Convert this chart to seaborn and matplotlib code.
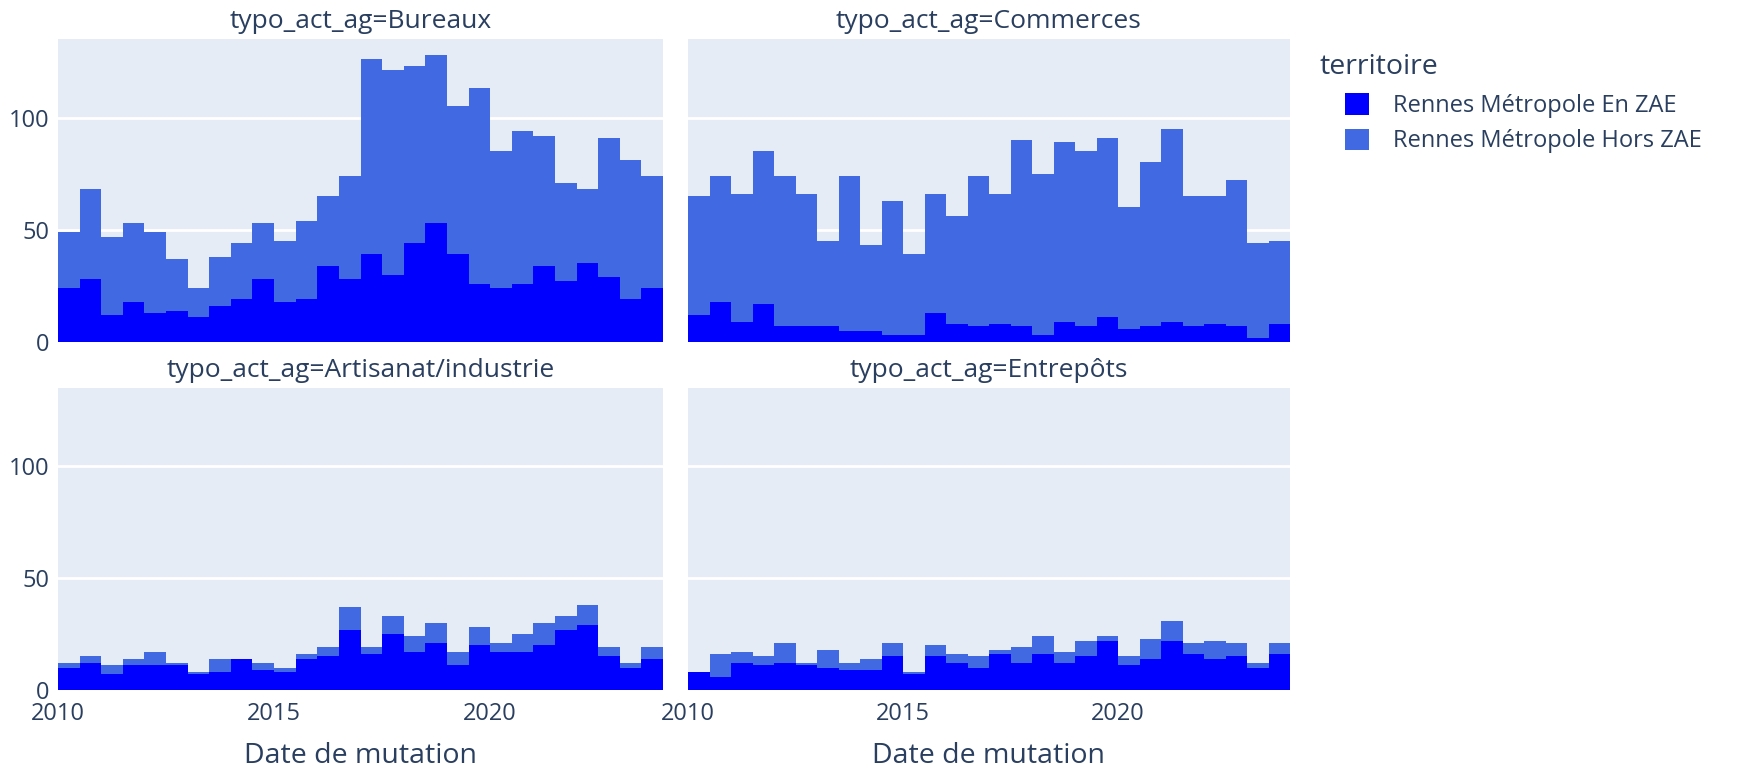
import numpy as np
import pandas as pd
import matplotlib.pyplot as plt
import seaborn as sns
from matplotlib.patches import Patch

# semestres de mutation, 2010 -> 2023
annees = list(range(2010, 2024))
semestres = [(a, s) for a in annees for s in (1, 2)]

typologies = ["Bureaux", "Commerces", "Artisanat/industrie", "Entrepôts"]
territoires = ["Rennes Métropole En ZAE", "Rennes Métropole Hors ZAE"]
couleurs = {"Rennes Métropole En ZAE": "#0000FF", "Rennes Métropole Hors ZAE": "#4169E1"}

bureaux_zae = [24, 28, 12, 18, 13, 14, 11, 16, 19, 28, 18, 19, 34, 28,
               39, 30, 44, 53, 39, 26, 24, 26, 34, 27, 35, 29, 19, 24]
bureaux_hors = [25, 40, 35, 35, 36, 23, 13, 22, 25, 25, 27, 35, 31, 46,
                87, 91, 79, 75, 66, 87, 61, 68, 58, 44, 33, 62, 62, 50]
commerces_zae = [12, 18, 9, 17, 7, 7, 7, 5, 5, 3, 3, 13, 8, 7,
                 8, 7, 3, 9, 7, 11, 6, 7, 9, 7, 8, 7, 2, 8]
commerces_hors = [53, 56, 57, 68, 67, 59, 38, 69, 38, 60, 36, 53, 48, 67,
                  58, 83, 72, 80, 78, 80, 54, 73, 86, 58, 57, 65, 42, 37]
artisanat_zae = [10, 12, 7, 11, 11, 11, 7, 8, 14, 9, 8, 14, 15, 27,
                 16, 25, 17, 21, 11, 20, 17, 17, 20, 27, 29, 15, 10, 14]
artisanat_hors = [2, 3, 4, 3, 6, 1, 1, 6, 0, 3, 2, 2, 4, 10,
                  3, 8, 7, 9, 6, 8, 4, 8, 10, 6, 9, 4, 2, 5]
entrepots_zae = [8, 6, 12, 11, 12, 11, 10, 9, 9, 15, 7, 15, 12, 10,
                 16, 12, 16, 12, 15, 22, 11, 14, 22, 16, 14, 15, 10, 16]
entrepots_hors = [0, 10, 5, 4, 9, 1, 8, 3, 5, 6, 1, 5, 4, 5,
                  2, 7, 8, 5, 7, 2, 4, 9, 9, 5, 8, 6, 2, 5]

series = {
    "Bureaux": (bureaux_zae, bureaux_hors),
    "Commerces": (commerces_zae, commerces_hors),
    "Artisanat/industrie": (artisanat_zae, artisanat_hors),
    "Entrepôts": (entrepots_zae, entrepots_hors),
}

rows = []
for typo, (zae, hors) in series.items():
    for (a, s), n_zae, n_hors in zip(semestres, zae, hors):
        date = a + (s - 1) * 0.5 + 0.25  # milieu du semestre
        rows.append((typo, date, territoires[0], n_zae))
        rows.append((typo, date, territoires[1], n_hors))
df = pd.DataFrame(rows, columns=["typo_act_ag", "date", "territoire", "nb"])

sns.set_theme(style="darkgrid")
plt.rcParams["font.family"] = ["Open Sans", "DejaVu Sans"]
txt = "#2a3f5f"
bg = "#E5ECF6"

fig = plt.figure(figsize=(17.39, 7.71), dpi=100)
W, H = 1739, 771
boxes = [(58, 39, 663, 342), (688, 39, 1290, 342),
         (58, 388, 663, 690), (688, 388, 1290, 690)]

for i, (typo, (l, t, r, b)) in enumerate(zip(typologies, boxes)):
    ax = fig.add_axes([l / W, 1 - b / H, (r - l) / W, (b - t) / H])
    sub = df[df["typo_act_ag"] == typo]
    sns.histplot(data=sub, x="date", weights="nb", hue="territoire",
                 hue_order=territoires[::-1], palette=couleurs,
                 multiple="stack", binwidth=0.5, binrange=(2010, 2024),
                 element="step", fill=True,
                 alpha=1, linewidth=0, legend=False, ax=ax)
    ax.set_facecolor(bg)
    ax.set_axisbelow(True)
    ax.grid(axis="x", visible=False)
    ax.grid(axis="y", color="white", linewidth=2)
    for sp in ax.spines.values():
        sp.set_visible(False)
    ax.set_xlim(2010, 2024)
    ax.set_ylim(0, 135)
    ax.set_yticks([0, 50, 100])
    ax.set_xticks([2010, 2015, 2020])
    ax.tick_params(length=0, labelsize=17, labelcolor=txt)
    ax.tick_params(axis="y", pad=6)
    ax.tick_params(axis="x", pad=9)
    ax.set_ylabel("")
    if i < 2:
        ax.set_xticklabels([])
        ax.set_xlabel("")
    else:
        ax.set_xticklabels(["2010", "2015", "2020"])
        ax.set_xlabel("Date de mutation", fontsize=20.5, color=txt, labelpad=11)
    if i % 2 == 1:
        ax.set_yticklabels([])
    ax.set_title(f"typo_act_ag={typo}", fontsize=19, color=txt, pad=8)

fig.text(1320 / W, 1 - 67 / H, "territoire", fontsize=20.5, color=txt,
         ha="left", va="center")
handles = [Patch(facecolor=couleurs[t], edgecolor="none") for t in territoires]
leg = fig.legend(handles, territoires, loc="upper left",
                 bbox_to_anchor=(1336 / W, 1 - 84 / H), frameon=False,
                 fontsize=17, handlelength=1.0, handleheight=1.0,
                 handletextpad=1.0, labelspacing=0.45, borderaxespad=0)
for text in leg.get_texts():
    text.set_color(txt)

fig.savefig("out.png", dpi=100, facecolor="white")
